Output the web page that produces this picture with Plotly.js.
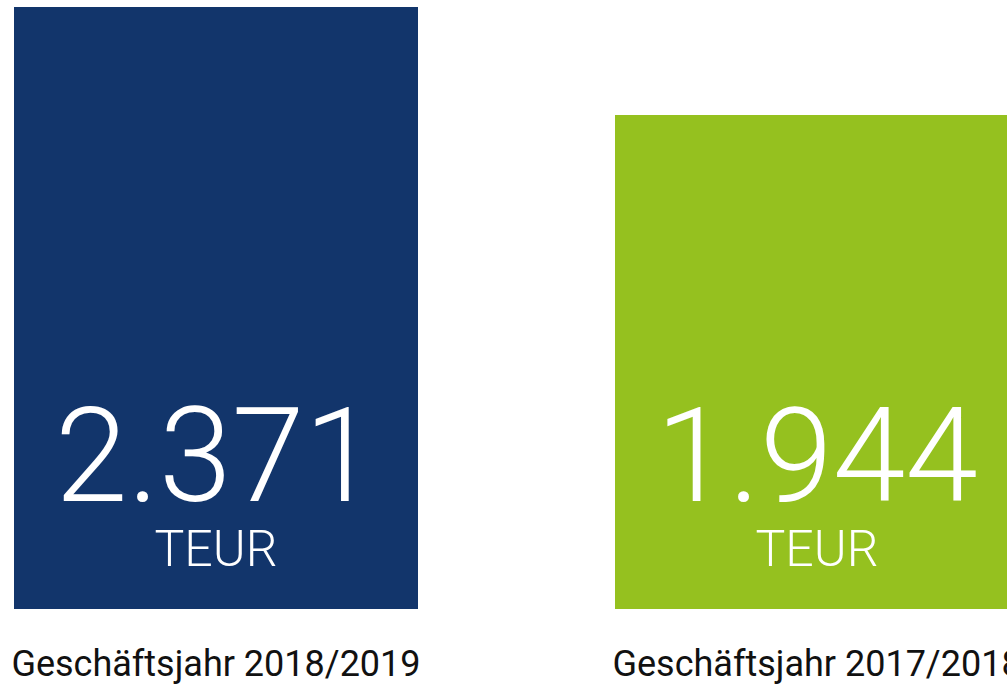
<!DOCTYPE html>
<html>
<head>
<meta charset="utf-8">
<script src="https://cdn.plot.ly/plotly-3.0.1.min.js"></script>
<style>html,body{margin:0;padding:0;background:#fff;}#chart{width:1007px;height:689px;}</style>
</head>
<body>
<div id="chart"></div>
<script>
const categories = ["Geschäftsjahr 2018/2019", "Geschäftsjahr 2017/2018"];
const values = [2371, 1944];
const unitLabel = "TEUR";
const barColors = ["#12356B", "#95C11F"];

function fmt(v) {
  return String(v).replace(/\B(?=(\d{3})+(?!\d))/g, ".");
}

const trace = {
  type: "bar",
  x: categories,
  y: values,
  width: 0.672,
  marker: { color: barColors, line: { width: 0 } },
  hoverinfo: "none",
  showlegend: false
};

const annotations = categories.map((c, i) => ({
  x: c, xref: "x", y: 0, yref: "y",
  xanchor: "center", yanchor: "bottom",
  yshift: 29, showarrow: false,
  align: "center",
  text: "<span style='font-size:131px'>" + fmt(values[i]) + "</span><br>" + unitLabel,
  font: { family: "Roboto, sans-serif", size: 50, color: "#ffffff", weight: 300 }
}));

const layout = {
  width: 1007, height: 689,
  margin: { l: 14, r: 0, t: 7, b: 80, pad: 0 },
  paper_bgcolor: "#ffffff", plot_bgcolor: "#ffffff",
  xaxis: {
    type: "category",
    range: [-0.336, 1.316],
    showgrid: false, zeroline: false, showline: false, ticks: "",
    tickfont: { family: "Roboto, sans-serif", size: 36, color: "#111111" },
    ticklabelstandoff: 30,
    fixedrange: true
  },
  yaxis: {
    range: [0, 2371],
    showgrid: false, zeroline: false, showline: false,
    showticklabels: false, ticks: "",
    fixedrange: true
  },
  annotations: annotations,
  bargap: 0
};

Plotly.newPlot("chart", [trace], layout, { displayModeBar: false, staticPlot: true });
</script>
</body>
</html>
